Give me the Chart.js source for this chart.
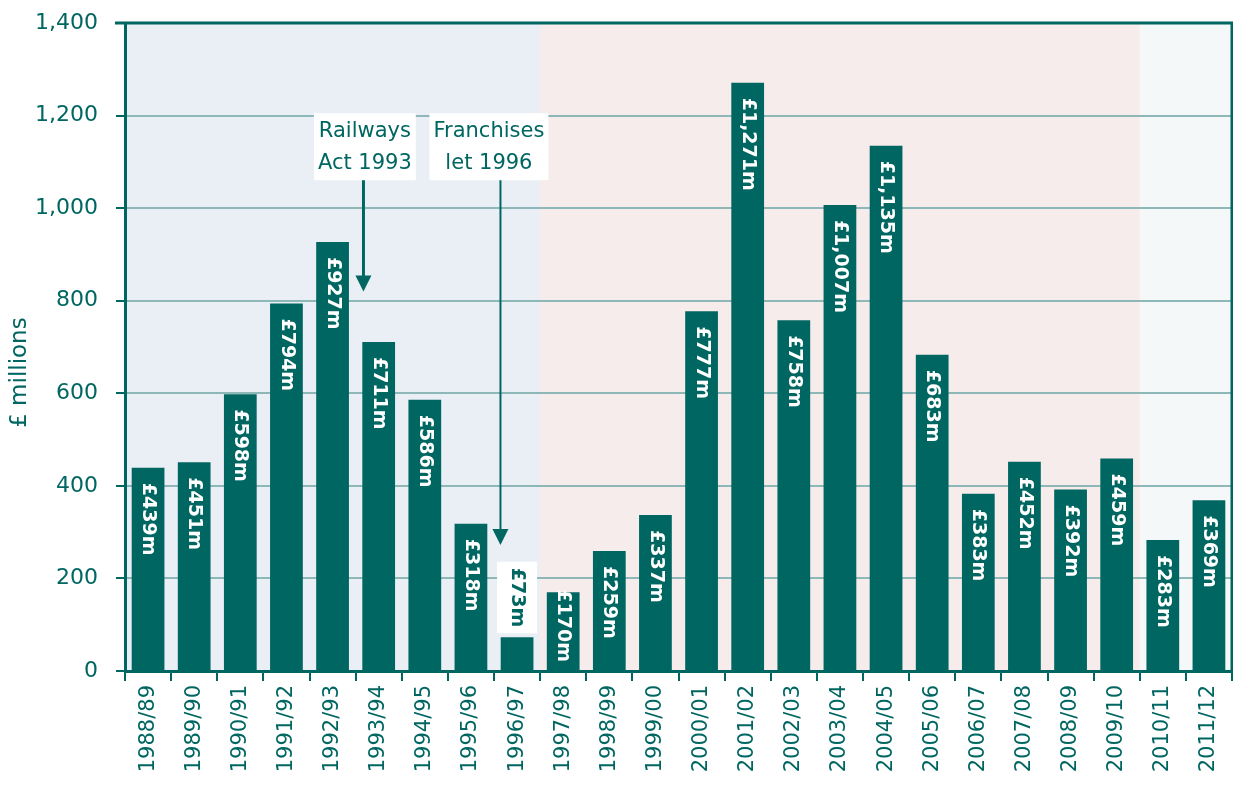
<!DOCTYPE html>
<html>
<head>
<meta charset="utf-8">
<script src="https://cdn.jsdelivr.net/npm/chart.js@4.4.1/dist/chart.umd.min.js"></script>
<style>
  html, body { margin: 0; padding: 0; background: #ffffff; }
  #wrap { width: 1233px; height: 796px; position: relative; }
</style>
</head>
<body>
<div id="wrap"><canvas id="subsidyChart"></canvas></div>
<script>
// years and subsidy (£m)
const years = ['1988/89', '1989/90', '1990/91', '1991/92', '1992/93', '1993/94', '1994/95', '1995/96',
  '1996/97', '1997/98', '1998/99', '1999/00', '2000/01', '2001/02', '2002/03', '2003/04', '2004/05',
  '2005/06', '2006/07', '2007/08', '2008/09', '2009/10', '2010/11', '2011/12'];
const subsidy = [439, 451, 598, 794, 927, 711, 586, 318, 73, 170, 259, 337, 777, 1271, 758, 1007, 1135,
  683, 383, 452, 392, 459, 283, 369];
const yTicks = [0, 200, 400, 600, 800, 1000, 1200, 1400];

// shaded periods: [first index, last index, colour]
const periods = [
  [0, 8, '#eaeff6'],
  [9, 21, '#f7ecec'],
  [22, 23, '#f5f8f8']
];

// annotations: text lines, box centre index, arrow index, arrow tip value
const notes = [
  { lines: ['Railways', 'Act 1993'], boxAt: 4.7, arrowAt: 4.67, tip: 820, width: 3 },
  { lines: ['Franchises', 'let 1996'], boxAt: 7.39, arrowAt: 7.64, tip: 272, width: 2 }
];

const teal = '#006661';
const gridTeal = '#8eb8b8';
const font = '"DejaVu Sans", Verdana, sans-serif';

// **Background bands behind the bars**
const bandsPlugin = {
  id: 'bands',
  beforeDraw(chart) {
    const { ctx, chartArea, scales: { x } } = chart;
    const half = (x.getPixelForValue(1) - x.getPixelForValue(0)) / 2;
    periods.forEach(([a, b, col]) => {
      const l = Math.max(chartArea.left, x.getPixelForValue(a) - half);
      const r = Math.min(chartArea.right, x.getPixelForValue(b) + half);
      ctx.fillStyle = col;
      ctx.fillRect(l, chartArea.top, r - l, chartArea.bottom - chartArea.top);
    });
  }
};

// **Rotated value labels inside the bars**
const labelPlugin = {
  id: 'barLabels',
  afterDatasetsDraw(chart) {
    const { ctx } = chart;
    const meta = chart.getDatasetMeta(0);
    const base = chart.scales.y.getPixelForValue(0);
    ctx.save();
    ctx.font = 'bold 19px ' + font;
    meta.data.forEach((bar, i) => {
      const v = subsidy[i];
      const txt = '£' + v.toLocaleString('en-GB') + 'm';
      const len = ctx.measureText(txt).width;
      let start = bar.y + 15;
      let small = v < 100;
      if (small) {
        start = bar.y - len - 10;
        ctx.fillStyle = '#ffffff';
        ctx.fillRect(bar.x - 20, start - 6, 40, len + 12);
      } else if (start + len > base - 6) {
        start = base - len - 9;
      }
      ctx.save();
      ctx.translate(bar.x, start);
      ctx.rotate(Math.PI / 2);
      ctx.fillStyle = small ? teal : '#ffffff';
      ctx.textAlign = 'left';
      ctx.textBaseline = 'middle';
      ctx.fillText(txt, 0, 0);
      ctx.restore();
    });
    ctx.restore();
  }
};

// **Frame, annotation boxes and arrows**
const framePlugin = {
  id: 'frame',
  afterDraw(chart) {
    const { ctx, chartArea, scales: { x, y } } = chart;
    ctx.save();
    ctx.strokeStyle = teal;
    ctx.lineWidth = 3;
    ctx.beginPath();
    ctx.moveTo(chartArea.left - 10, chartArea.top);
    ctx.lineTo(chartArea.right, chartArea.top);
    ctx.lineTo(chartArea.right, chartArea.bottom);
    ctx.stroke();

    ctx.font = '21px ' + font;
    notes.forEach(n => {
      const cx = x.getPixelForValue(n.boxAt);
      const ax = x.getPixelForValue(n.arrowAt);
      const top = y.getPixelForValue(1205);
      const w = Math.max(...n.lines.map(t => ctx.measureText(t).width)) + 8;
      const h = 67;
      ctx.fillStyle = '#ffffff';
      ctx.fillRect(cx - w / 2, top, w, h);
      ctx.fillStyle = teal;
      ctx.textAlign = 'center';
      ctx.textBaseline = 'middle';
      n.lines.forEach((t, k) => ctx.fillText(t, cx, top + 18 + k * 32));

      const tipY = y.getPixelForValue(n.tip);
      ctx.strokeStyle = teal;
      ctx.lineWidth = n.width;
      ctx.beginPath();
      ctx.moveTo(ax, top + h);
      ctx.lineTo(ax, tipY - 12);
      ctx.stroke();
      ctx.beginPath();
      ctx.moveTo(ax - 8, tipY - 16);
      ctx.lineTo(ax + 8, tipY - 16);
      ctx.lineTo(ax, tipY);
      ctx.closePath();
      ctx.fill();
    });
    ctx.restore();
  }
};

const ctx = document.getElementById('subsidyChart').getContext('2d');
new Chart(ctx, {
  type: 'bar',
  data: {
    labels: years,
    datasets: [{
      data: subsidy,
      backgroundColor: teal,
      categoryPercentage: 1,
      barPercentage: 0.71
    }]
  },
  options: {
    responsive: true,
    maintainAspectRatio: false,
    animation: false,
    layout: { padding: { top: 23, right: 1, left: 6, bottom: 0 } },
    plugins: { legend: { display: false }, tooltip: { enabled: false } },
    scales: {
      x: {
        grid: {
          offset: true,
          drawOnChartArea: false,
          tickColor: teal,
          tickLength: 10,
          lineWidth: 2
        },
        border: { color: teal, width: 3 },
        ticks: {
          color: teal,
          font: { family: font, size: 21 },
          minRotation: 90,
          maxRotation: 90,
          autoSkip: false,
          padding: 4
        },
        afterFit: s => {
          s.height = 125;
          s.paddingTop = 0; s.paddingBottom = 0; s.paddingLeft = 0; s.paddingRight = 0;
        }
      },
      y: {
        min: 0,
        max: 1400,
        afterBuildTicks: s => { s.ticks = yTicks.map(v => ({ value: v })); },
        grid: {
          color: c => c.tick.value === 1400 ? teal : gridTeal,
          lineWidth: 2,
          tickColor: teal,
          tickLength: 9
        },
        border: { color: teal, width: 3 },
        ticks: {
          color: teal,
          font: { family: font, size: 22 },
          padding: 18,
          callback: v => v.toLocaleString('en-GB')
        },
        title: {
          display: true,
          text: '£ millions       ',
          color: teal,
          font: { family: font, size: 23 },
          padding: { top: 0, bottom: 6 }
        },
        afterFit: s => { s.width = 119; s.paddingTop = 0; s.paddingBottom = 0; }
      }
    }
  },
  plugins: [bandsPlugin, labelPlugin, framePlugin]
});
</script>
</body>
</html>
